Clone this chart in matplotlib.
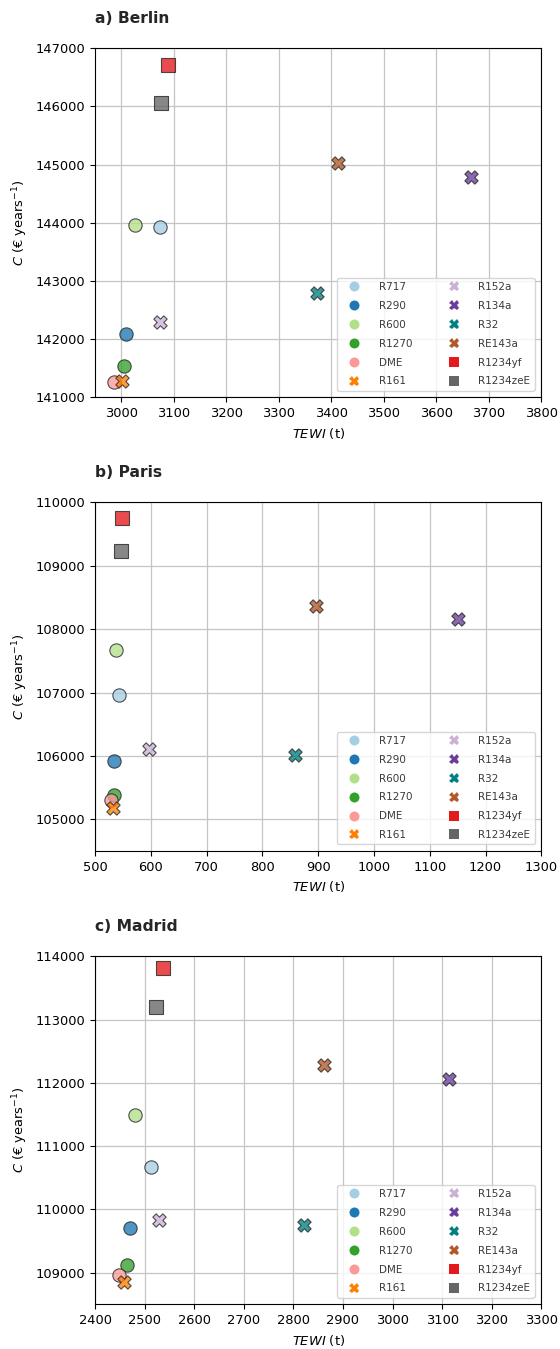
import matplotlib
matplotlib.use("Agg")
import matplotlib.pyplot as plt
from matplotlib.lines import Line2D

refrigerants = ["R717", "R290", "R600", "R1270", "DME", "R161",
                "R152a", "R134a", "R32", "RE143a", "R1234yf", "R1234zeE"]

tewi_berlin = [3074, 3009, 3027, 3005, 2987, 3001, 3074, 3666, 3373, 3413, 3089, 3076]
cost_berlin = [143931, 142082, 143960, 141538, 141258, 141286, 142288, 144790, 142786, 145031, 146708, 146055]

tewi_paris = [543.5, 534.5, 537, 534, 529.4, 533, 597, 1151, 858.7, 895.8, 548, 546.7]
cost_paris = [106954, 105924, 107668, 105383, 105299, 105173, 106113, 108162, 106008, 108372, 109753, 109238]

tewi_madrid = [2513, 2470, 2481, 2465.5, 2447.5, 2459, 2530, 3114, 2822, 2861, 2537, 2523]
cost_madrid = [110672, 109705, 111497, 109126, 108958, 108853, 109831, 112055, 109757, 112286, 113816, 113201]

panels = [
    ("a) Berlin", tewi_berlin, cost_berlin, (2950, 3800), (141000, 147000), range(3000, 3801, 100), range(141000, 147001, 1000)),
    ("b) Paris", tewi_paris, cost_paris, (500, 1300), (104500, 110000), range(500, 1301, 100), range(105000, 110001, 1000)),
    ("c) Madrid", tewi_madrid, cost_madrid, (2400, 3300), (108500, 114000), range(2400, 3301, 100), range(109000, 114001, 1000)),
]

colors = ["#a6cee3", "#1f78b4", "#b2df8a", "#33a02c", "#fb9a99", "#ff7f00",
          "#cab2d6", "#6a3d9a", "#008080", "#b15928", "#e31a1c", "#666666"]
markers = ["o", "o", "o", "o", "o", "X", "X", "X", "X", "X", "s", "s"]

W, H = 560, 1349
fig = plt.figure(figsize=(W / 100, H / 100), dpi=100)

axes_px = [(48.3, 397.3), (502.3, 851.0), (956.3, 1304.3)]
left_px, right_px = 95, 541.3

for (title, xs, ys, xlim, ylim, xt, yt), (top, bot) in zip(panels, axes_px):
    ax = fig.add_axes([left_px / W, 1 - bot / H, (right_px - left_px) / W, (bot - top) / H])
    ax.set_axisbelow(True)
    ax.grid(True, color="#c4c4c4", linewidth=0.9)
    for i, name in enumerate(refrigerants):
        ax.scatter(xs[i], ys[i], s=92, marker=markers[i], color=colors[i],
                   edgecolor="#222222", linewidth=0.8, alpha=0.78, zorder=3)
    ax.set_xlim(*xlim)
    ax.set_ylim(*ylim)
    ax.set_xticks(list(xt))
    ax.set_yticks(list(yt))
    ax.tick_params(labelsize=9.4)
    ax.set_xlabel(r"$TEWI$ (t)", fontsize=9.4)
    ax.set_ylabel(r"$C$ (€ years$^{-1}$)", fontsize=9.4)
    ax.set_title(title, loc="left", fontweight="bold", fontsize=11.2, pad=18, color="#262626")
    handles = [Line2D([], [], linestyle="none", marker=markers[i], color=colors[i],
                      markersize=7.2 if markers[i] != "s" else 6.8, markeredgewidth=0)
               for i in range(len(refrigerants))]
    ax.legend(handles, refrigerants, ncol=2, loc="lower right", fontsize=7.5,
              handlelength=2.65, handletextpad=1.0, columnspacing=2.7,
              labelspacing=0.85, labelcolor="#3a3a3a", borderaxespad=0.65)

fig.savefig("out.png", dpi=100)
